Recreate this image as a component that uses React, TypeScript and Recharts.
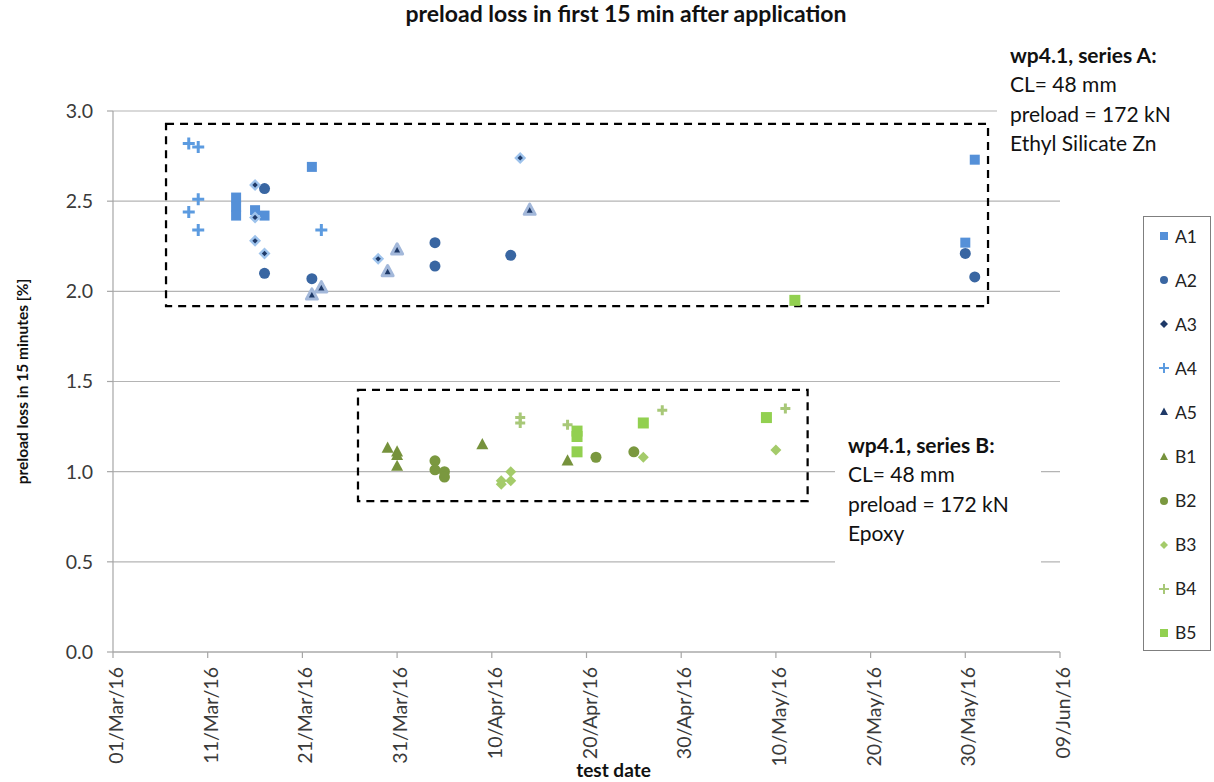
import React from "react";
import {
  ScatterChart,
  Scatter,
  XAxis,
  YAxis,
  CartesianGrid,
  ReferenceArea,
  Legend,
  Label,
} from "recharts";

const FONT = "Lato, 'Noto Sans', sans-serif";

const X_TICKS = [0, 10, 20, 30, 40, 50, 60, 70, 80, 90, 100];
const X_TICK_LABELS = [
  "01/Mar/16",
  "11/Mar/16",
  "21/Mar/16",
  "31/Mar/16",
  "10/Apr/16",
  "20/Apr/16",
  "30/Apr/16",
  "10/May/16",
  "20/May/16",
  "30/May/16",
  "09/Jun/16",
];
const Y_TICKS = [0, 0.5, 1, 1.5, 2, 2.5, 3];

// series A (ethyl silicate Zn)
const A1_DATES = ["2016-03-14", "2016-03-14", "2016-03-14", "2016-03-16", "2016-03-17", "2016-03-22", "2016-05-30", "2016-05-31"];
const A1_VALUES = [2.52, 2.47, 2.42, 2.45, 2.42, 2.69, 2.27, 2.73];

const A2_DATES = ["2016-03-17", "2016-03-17", "2016-03-22", "2016-04-04", "2016-04-04", "2016-04-12", "2016-05-30", "2016-05-31"];
const A2_VALUES = [2.57, 2.1, 2.07, 2.27, 2.14, 2.2, 2.21, 2.08];

const A3_DATES = ["2016-03-16", "2016-03-16", "2016-03-16", "2016-03-17", "2016-03-29", "2016-04-13"];
const A3_VALUES = [2.59, 2.41, 2.28, 2.21, 2.18, 2.74];

const A4_DATES = ["2016-03-09", "2016-03-09", "2016-03-10", "2016-03-10", "2016-03-10", "2016-03-23"];
const A4_VALUES = [2.82, 2.44, 2.8, 2.51, 2.34, 2.34];

const A5_DATES = ["2016-03-22", "2016-03-23", "2016-03-30", "2016-03-31", "2016-04-14"];
const A5_VALUES = [1.98, 2.02, 2.11, 2.23, 2.45];

// series B (epoxy)
const B1_DATES = ["2016-03-30", "2016-03-31", "2016-03-31", "2016-03-31", "2016-04-09", "2016-04-18"];
const B1_VALUES = [1.13, 1.11, 1.09, 1.03, 1.15, 1.06];

const B2_DATES = ["2016-04-04", "2016-04-04", "2016-04-05", "2016-04-05", "2016-04-21", "2016-04-25"];
const B2_VALUES = [1.06, 1.01, 1.0, 0.97, 1.08, 1.11];

const B3_DATES = ["2016-04-11", "2016-04-11", "2016-04-12", "2016-04-12", "2016-04-26", "2016-05-10"];
const B3_VALUES = [0.95, 0.93, 1.0, 0.95, 1.08, 1.12];

const B4_DATES = ["2016-04-13", "2016-04-13", "2016-04-18", "2016-04-28", "2016-05-11"];
const B4_VALUES = [1.3, 1.27, 1.26, 1.34, 1.35];

const B5_DATES = ["2016-04-19", "2016-04-19", "2016-04-19", "2016-04-26", "2016-05-09", "2016-05-12"];
const B5_VALUES = [1.225, 1.195, 1.11, 1.27, 1.3, 1.95];

const START = Date.UTC(2016, 2, 1);
const toDay = (iso: string) => Math.round((Date.parse(iso) - START) / 86400000);
const points = (dates: string[], values: number[]) =>
  dates.map((d, i) => ({ day: toDay(d), value: values[i] }));

type Kind = "square" | "circle" | "dotDiamond" | "plus" | "edgeTriangle" | "triangle" | "diamond";

interface SeriesDef {
  name: string;
  kind: Kind;
  color: string;
  edge?: string;
  size: number;
  data: { day: number; value: number }[];
}

const SERIES: SeriesDef[] = [
  { name: "A1", kind: "square", color: "#5590d8", size: 10, data: points(A1_DATES, A1_VALUES) },
  { name: "A2", kind: "circle", color: "#3966a2", size: 11, data: points(A2_DATES, A2_VALUES) },
  { name: "A3", kind: "dotDiamond", color: "#1f3a68", edge: "#9ec3ec", size: 12, data: points(A3_DATES, A3_VALUES) },
  { name: "A4", kind: "plus", color: "#5c9be0", size: 12, data: points(A4_DATES, A4_VALUES) },
  { name: "A5", kind: "edgeTriangle", color: "#1f3a68", edge: "#a3b8da", size: 11, data: points(A5_DATES, A5_VALUES) },
  { name: "B1", kind: "triangle", color: "#76923c", size: 12, data: points(B1_DATES, B1_VALUES) },
  { name: "B2", kind: "circle", color: "#7a983f", size: 11, data: points(B2_DATES, B2_VALUES) },
  { name: "B3", kind: "diamond", color: "#a4cb6a", size: 11, data: points(B3_DATES, B3_VALUES) },
  { name: "B4", kind: "plus", color: "#a8c878", size: 10, data: points(B4_DATES, B4_VALUES) },
  { name: "B5", kind: "square", color: "#92d050", size: 11, data: points(B5_DATES, B5_VALUES) },
];

// dashed frames around the two test series (data units)
const FRAME_A = { x1: 5.6, x2: 92.4, y1: 1.918, y2: 2.928 };
const FRAME_B = { x1: 25.87, x2: 73.35, y1: 0.837, y2: 1.453 };

const NOTE_A = ["wp4.1, series A:", "CL= 48 mm", "preload = 172 kN", "Ethyl Silicate Zn"];
const NOTE_B = ["wp4.1, series B:", "CL= 48 mm", "preload = 172 kN", "Epoxy"];

function marker(kind: Kind, cx: number, cy: number, s: number, color: string, edge?: string, thin = false) {
  const h = s / 2;
  switch (kind) {
    case "square":
      return <rect x={cx - h} y={cy - h} width={s} height={s} fill={color} />;
    case "circle":
      return <circle cx={cx} cy={cy} r={h} fill={color} />;
    case "diamond":
      return <polygon points={`${cx},${cy - h} ${cx + h},${cy} ${cx},${cy + h} ${cx - h},${cy}`} fill={color} />;
    case "dotDiamond": {
      const k = h * 0.45;
      return (
        <g>
          <polygon points={`${cx},${cy - h} ${cx + h},${cy} ${cx},${cy + h} ${cx - h},${cy}`} fill={thin ? color : edge} />
          <polygon points={`${cx},${cy - k} ${cx + k},${cy} ${cx},${cy + k} ${cx - k},${cy}`} fill={color} />
        </g>
      );
    }
    case "plus":
      return (
        <path
          d={`M${cx - h},${cy}H${cx + h}M${cx},${cy - h}V${cy + h}`}
          stroke={color}
          strokeWidth={thin ? 2 : 3}
          fill="none"
        />
      );
    case "triangle":
      return (
        <polygon
          points={`${cx},${cy - s * 0.55} ${cx + h},${cy + s * 0.38} ${cx - h},${cy + s * 0.38}`}
          fill={color}
        />
      );
    case "edgeTriangle":
      return (
        <polygon
          points={`${cx},${cy - s * 0.55} ${cx + h},${cy + s * 0.38} ${cx - h},${cy + s * 0.38}`}
          fill={color}
          stroke={thin ? "none" : edge}
          strokeWidth={3}
          strokeLinejoin="round"
        />
      );
  }
  return null;
}

const DateTick = (props: any) => {
  const { x, y, payload } = props;
  const label = X_TICK_LABELS[X_TICKS.indexOf(payload.value)];
  const tx = x + 3;
  return (
    <text
      x={tx}
      y={y}
      transform={`rotate(-90 ${tx} ${y})`}
      textAnchor="end"
      dy="0.36em"
      fill="#3a3a3a"
      fontSize={19.5}
      fontFamily={FONT}
    >
      {label}
    </text>
  );
};

const LegendBox = (props: any) => {
  const items: any[] = props.payload || [];
  return (
    <div
      style={{
        width: 68,
        height: 435,
        border: "1px solid #7f7f7f",
        boxSizing: "border-box",
        background: "#fff",
        position: "relative",
        fontFamily: FONT,
      }}
    >
      {items.map((item, i) => {
        const s = SERIES.find((d) => d.name === item.value);
        if (!s) return null;
        return (
          <div
            key={s.name}
            style={{ position: "absolute", left: 8, top: 19 + i * 44.1 - 12, height: 24, display: "flex", alignItems: "center" }}
          >
            <svg width={24} height={24}>
              {marker(s.kind, 12, 12, s.kind === "plus" ? 10 : 8, s.color, s.edge, true)}
            </svg>
            <span style={{ fontSize: 17.5, color: "#222", marginLeft: -1 }}>{s.name}</span>
          </div>
        );
      })}
    </div>
  );
};

export default function App() {
  return (
    <div style={{ position: "absolute", left: 0, top: 0, width: 1214, height: 782, background: "#fff", fontFamily: FONT }}>
      <ScatterChart width={1214} height={782} margin={{ top: 111, right: 154, bottom: 0, left: 0 }}>
        <CartesianGrid horizontal vertical={false} stroke="#b4b4b4" strokeWidth={1.2} />
        <XAxis
          type="number"
          dataKey="day"
          domain={[0, 100]}
          ticks={X_TICKS}
          height={130}
          tickSize={6}
          tickMargin={9}
          tick={<DateTick />}
          axisLine={{ stroke: "#a6a6a6", strokeWidth: 1.2 }}
          tickLine={{ stroke: "#a6a6a6", strokeWidth: 1.2 }}
          allowDataOverflow
        >
          <Label
            value="test date"
            position="insideBottom"
            offset={5}
            dx={27}
            style={{ fontWeight: "bold", fontSize: 19, fill: "#111", fontFamily: FONT }}
          />
        </XAxis>
        <YAxis
          type="number"
          dataKey="value"
          domain={[0, 3]}
          ticks={Y_TICKS}
          width={113}
          tickSize={6}
          tickMargin={14}
          tickFormatter={(v: number) => v.toFixed(1)}
          tick={{ fill: "#3a3a3a", fontSize: 19.5, fontFamily: FONT }}
          axisLine={{ stroke: "#a6a6a6", strokeWidth: 1.2 }}
          tickLine={{ stroke: "#a6a6a6", strokeWidth: 1.2 }}
        >
          <Label
            value="preload loss in 15 minutes [%]"
            angle={-90}
            position="insideLeft"
            offset={22}
            style={{ textAnchor: "middle", fontWeight: "bold", fontSize: 15.5, fill: "#111", fontFamily: FONT }}
          />
        </YAxis>
        <ReferenceArea {...FRAME_A} fill="none" stroke="#000" strokeWidth={2.25} strokeDasharray="8 6" />
        <ReferenceArea {...FRAME_B} fill="none" stroke="#000" strokeWidth={2.25} strokeDasharray="8 6" />
        {SERIES.map((s) => (
          <Scatter
            key={s.name}
            name={s.name}
            data={s.data}
            isAnimationActive={false}
            shape={(p: any) => marker(s.kind, p.cx, p.cy, s.size, s.color, s.edge)}
          />
        ))}
        <Legend
          layout="vertical"
          align="center"
          verticalAlign="middle"
          wrapperStyle={{ left: 1143, top: 216, width: 68, height: 435 }}
          content={<LegendBox />}
        />
      </ScatterChart>

      <svg width={1214} height={782} style={{ position: "absolute", left: 0, top: 0, pointerEvents: "none" }}>
        <text x={626} y={22} textAnchor="middle" fontWeight="bold" fontSize={23} fill="#111" fontFamily={FONT}>
          preload loss in first 15 min after application
        </text>
        <rect x={997} y={35} width={217} height={128} fill="#fff" />
        {NOTE_A.map((t, i) => (
          <text key={t} x={1010} y={63 + i * 29.3} fontSize={21} fontWeight={i === 0 ? "bold" : "normal"} fill="#111" fontFamily={FONT}>
            {t}
          </text>
        ))}
        <rect x={835} y={428} width={206} height={146} fill="#fff" />
        {NOTE_B.map((t, i) => (
          <text key={t + i} x={848} y={453 + i * 29.3} fontSize={21} fontWeight={i === 0 ? "bold" : "normal"} fill="#111" fontFamily={FONT}>
            {t}
          </text>
        ))}
      </svg>
    </div>
  );
}
